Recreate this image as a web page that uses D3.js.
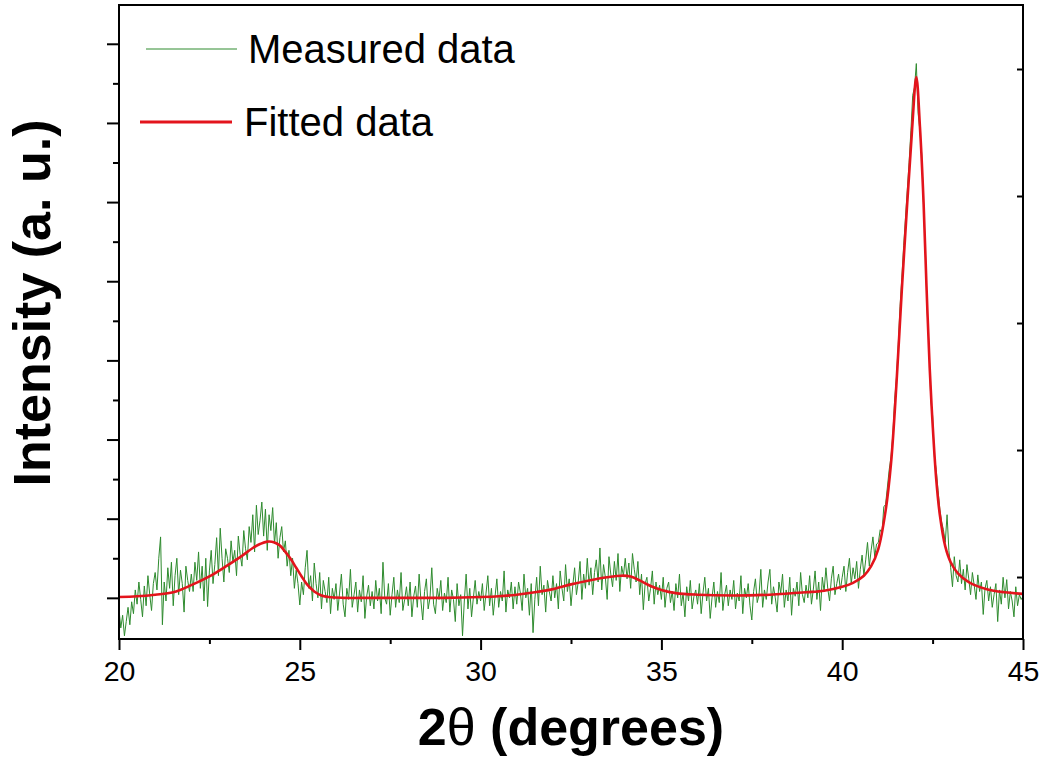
<!DOCTYPE html>
<html><head><meta charset="utf-8">
<script src="https://cdn.jsdelivr.net/npm/d3@7"></script>
<style>body{margin:0;background:#fff}svg{display:block}</style>
</head><body>
<svg id="chart" width="1048" height="759"></svg>
<script>
// ---- data (intensity in arbitrary units, 100 = flat background) ----
const measuredStart = 20;
const measuredStep = 0.05;
const measured = [
 85, 62, 78, 52, 70, 88, 66, 95, 80,110, 92,120, 98, 76,115, 90,128,104, 84,118,
132,110,150,177, 66,120, 96,138,112,145, 90,128,150,104,135,118, 82,140,122,108,
130,108,145,122,158,112,140, 96,150, 89,134,160,118,142,176,128,188,150,120,162,
150,132,172,145,160,128,178,155,140,185,162,148,190,170,205,158,217,180,198,221,
178,212,160,205,185,214,168,195,150,176,190,158,172,140,160,128,150,112,135,118,
 91,120,104,138,160,112,128, 96,144,118,100,132, 86,122,108, 94,126, 80,112, 98,
118, 84,106,130, 92, 76,112, 98,136, 88,104,120, 82,110, 95,128, 74,102,116, 90,
108, 86,122, 96,112, 80,145,100, 92,118, 78,104,126, 88,110, 94,132, 84, 98,114,
 90,120, 76,102,115, 88,130, 96, 72,108,124, 86,100,138, 92, 80,112, 98,122, 84,
106, 94,126, 82,110, 98, 70,118, 90,104, 52, 96,130, 86,112, 76,100,122, 92,108,
 96,118, 84,106,128, 90,112, 78,102,124, 88,108, 96,134, 82,110,100,120, 86,114,
 92,120,106, 84,130,100,112, 78,118, 56, 98,126, 90,140,104,116, 82,122,108, 96,
128,100,118, 86,134,112, 96,142,108,124, 90,116,138,104,120,146, 98,130,112,150,
116,138,104,132,148,120,163,110,142,126, 98,152,130,114,146,122,156,108,140,128,
150,124,144,112,156,136,120,146,104,130, 85,118,126, 96,112,134, 92,120,104,116,
 98,126, 88,112,120, 94,108, 84,118,100,130, 90,106, 76,114, 96,122, 86,102,110,
 92,118, 80,106,126, 96,112, 74,100,120, 88,108, 94,132, 84,104,116, 90,110, 98,
122, 86,106, 96,128, 80,112,100,118, 90, 72,108,124, 94,104,136, 88,110, 98,120,
136, 92,114,100, 82,120,106,130, 88,110, 96,126, 78,112,102,120, 90,132,104, 94,
116,100,128, 92,110,134, 98,120, 84,126,108,138,112, 96,124,140,104,118,130,110,
126,140,108,132,150,118,138,124,146,112,136,154,128,148,170,140,160,177,152,168,
170,186,182,215,218,240,262,278,306,350,378,420,468,505,545,580,615,650,690,735,
745,775,712,690,660,595,540,462,418,350,330,278,262,236,212,196,186,170,205,160,
138,114,152,128,120,148,118,136,110,142,124,104,132,116, 98,129,108,120, 79,112,
122, 96,114, 88,104,118, 70,110, 92,126,100,123, 86,108, 96, 76,114, 90,104, 98,
102
];
const fittedX = [20,20.5,21,21.5,22,22.5,23,23.4,23.7,23.9,24.1,24.3,24.45,24.6,24.75,24.9,25.05,25.2,25.4,25.6,25.8,26.2,27,28,29,
 30,30.5,31,31.5,32,32.5,33,33.5,33.9,34.15,34.4,34.7,35,35.4,36,37,38,39,39.5,40,40.3,40.6,40.8,41,41.2,41.35,
 41.5,41.65,41.8,41.93,42.05,42.15,42.25,42.33,42.42,42.5,42.6,42.7,42.85,43,43.2,43.5,44,44.5,45];
const fittedY = [101,102,104,107,116,127,141,153,163,168,171,170,166,158,149,138,127,117,108,103,101,100,100,100,100,
 101,102,104,107,111,117,122,126,128,127,122,115,110,106,104,103,104,107,109,114,119,128,140,162,210,270,
 370,490,600,690,758,695,600,495,390,320,250,205,165,145,131,120,111,107,105];
const xTickValues = [20,25,30,35,40,45];
const xMinorTicks = [22.5,27.5,32.5,37.5,42.5];
const yMajorTicks = [100,200,300,400,500,600,700,800];
const yMinorTicks = [150,250,350,450,550,650,750];
const rightTicks = [0,1,2,3,4];
const legendLabels = ["Measured data","Fitted data"];
const xTitle = "2θ (degrees)";
const yTitle = "Intensity (a. u.)";

// ---- layout ----
const L = 119, R = 1023, T = 5, B = 639;
const svg = d3.select("#chart");
const x = d3.scaleLinear().domain([20,45]).range([L,R]);
const y = d3.scaleLinear().domain([48,849]).range([B,T]);
const yR = d3.scaleLinear().domain([-0.488,4.504]).range([B,T]);

svg.append("defs").append("clipPath").attr("id","clip")
  .append("rect").attr("x",L).attr("y",T).attr("width",R-L).attr("height",B-T);

const measPts = measured.map((v,i)=>[measuredStart+i*measuredStep, v]);
const fitPts = fittedX.map((v,i)=>[v, fittedY[i]]);

const g = svg.append("g").attr("clip-path","url(#clip)");
g.append("path").datum(measPts)
  .attr("fill","none").attr("stroke","#2e8b2e").attr("stroke-width",1)
  .attr("d", d3.line().x(d=>x(d[0])).y(d=>y(d[1])));
g.append("path").datum(fitPts)
  .attr("fill","none").attr("stroke","#e3141c").attr("stroke-width",2.6)
  .attr("stroke-linejoin","round")
  .attr("d", d3.line().curve(d3.curveCatmullRom.alpha(0.5)).x(d=>x(d[0])).y(d=>y(d[1])));

// ---- axes ----
const font = "Arial, 'Liberation Sans', sans-serif";
function style(sel){ sel.select(".domain").remove(); sel.selectAll("line").attr("stroke","#000").attr("stroke-width",2); }

const xAx = svg.append("g").attr("transform",`translate(0,${B})`)
  .call(d3.axisBottom(x).tickValues(xTickValues).tickSize(11).tickPadding(11).tickFormat(d3.format("d")));
style(xAx);
xAx.selectAll("text").attr("font-family",font).attr("font-size",28.5).attr("fill","#000");
const xAxMin = svg.append("g").attr("transform",`translate(0,${B})`)
  .call(d3.axisBottom(x).tickValues(xMinorTicks).tickSize(5).tickFormat(""));
style(xAxMin);

const yAx = svg.append("g").attr("transform",`translate(${L},0)`)
  .call(d3.axisLeft(y).tickValues(yMajorTicks).tickSize(12).tickFormat(""));
style(yAx);
const yAxMin = svg.append("g").attr("transform",`translate(${L},0)`)
  .call(d3.axisLeft(y).tickValues(yMinorTicks).tickSize(6).tickFormat(""));
style(yAxMin);
const yAxR = svg.append("g").attr("transform",`translate(${R},0)`)
  .call(d3.axisLeft(yR).tickValues(rightTicks).tickSize(6).tickFormat(""));
style(yAxR);

// frame
svg.append("rect").attr("x",L).attr("y",T).attr("width",R-L).attr("height",B-T)
  .attr("fill","none").attr("stroke","#000").attr("stroke-width",2);

// titles
const xt = svg.append("text").attr("x",(L+R)/2).attr("y",745).attr("text-anchor","middle")
  .attr("font-family",font).attr("font-size",52).attr("font-weight","bold").attr("fill","#000");
xt.append("tspan").text(xTitle.slice(0,1));
xt.append("tspan").attr("font-weight","normal").text(xTitle.slice(1,2));
xt.append("tspan").text(xTitle.slice(2));

svg.append("text").attr("transform","translate(50,303) rotate(-90)").attr("text-anchor","middle")
  .attr("font-family",font).attr("font-size",52).attr("font-weight","bold").attr("fill","#000")
  .text(yTitle);

// legend
const leg = [
  {label:legendLabels[0], color:"#2e8b2e", w:1, x1:146, x2:237, ly:49, tx:248, ty:63},
  {label:legendLabels[1], color:"#e3141c", w:3, x1:140, x2:232, ly:122, tx:244, ty:136}
];
leg.forEach(d=>{
  svg.append("line").attr("x1",d.x1).attr("x2",d.x2).attr("y1",d.ly).attr("y2",d.ly)
    .attr("stroke",d.color).attr("stroke-width",d.w);
  svg.append("text").attr("x",d.tx).attr("y",d.ty).attr("font-family",font)
    .attr("font-size",40).attr("fill","#000").text(d.label);
});
</script>
</body></html>
